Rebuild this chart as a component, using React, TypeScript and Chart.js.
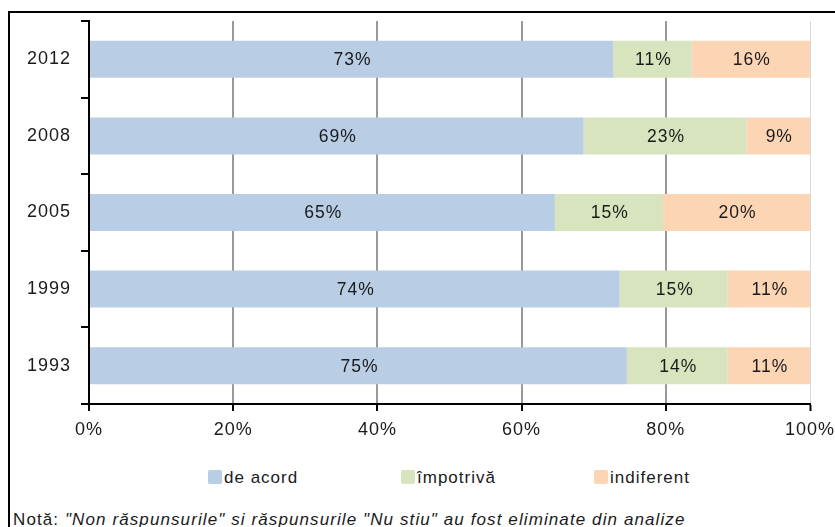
import React, { useEffect, useRef } from "react";
import { Chart, registerables } from "chart.js";

Chart.register(...registerables);

const years = ["2012", "2008", "2005", "1999", "1993"];
const deAcord = [72.7, 68.6, 64.6, 73.6, 74.6];
const impotriva = [10.9, 22.6, 15.0, 15.0, 14.0];
const indiferent = [16.4, 8.8, 20.4, 11.4, 11.4];
const seriesNames = ["de acord", "împotrivă", "indiferent"];
const seriesColors = ["#B9CDE5", "#D7E4BD", "#FCD5B5"];
const xTicks = [0, 20, 40, 60, 80, 100];

const FONT = "'Liberation Sans', Arial, sans-serif";

const labelPlugin = {
  id: "barLabels",
  beforeDraw(chart: any) {
    chart.ctx.letterSpacing = "1px";
  },
  afterDatasetsDraw(chart: any) {
    const ctx = chart.ctx;
    ctx.save();
    ctx.letterSpacing = "1px";
    ctx.font = `17.5px ${FONT}`;
    ctx.fillStyle = "#1a1a1a";
    ctx.textAlign = "center";
    ctx.textBaseline = "middle";
    chart.data.datasets.forEach((ds: any, di: number) => {
      const meta = chart.getDatasetMeta(di);
      meta.data.forEach((el: any, i: number) => {
        const p = el.getCenterPoint();
        ctx.fillText(Math.round(ds.data[i]) + "%", p.x + 1, p.y + 1);
      });
    });
    ctx.restore();
  },
};

export default function App() {
  const ref = useRef<HTMLCanvasElement>(null);
  useEffect(() => {
    if (!ref.current) return;
    Chart.defaults.font.family = FONT;
    const chart = new Chart(ref.current, {
      type: "bar",
      data: {
        labels: years,
        datasets: [deAcord, impotriva, indiferent].map((d, i) => ({
          label: seriesNames[i],
          data: d,
          backgroundColor: seriesColors[i],
          barPercentage: 0.483,
          categoryPercentage: 1,
        })),
      },
      options: {
        indexAxis: "y",
        animation: false,
        responsive: false,
        maintainAspectRatio: false,
        layout: { padding: { left: 0, right: 25, top: 21, bottom: 0 } },
        plugins: { legend: { display: false }, tooltip: { enabled: false } },
        scales: {
          x: {
            stacked: true,
            min: 0,
            max: 100,
            afterBuildTicks: (scale: any) => {
              scale.ticks = xTicks.map((v) => ({ value: v }));
            },
            afterFit: (scale: any) => {
              scale.height = 46;
              scale.paddingLeft = 0;
              scale.paddingRight = 0;
            },
            border: { display: true, color: "#000", width: 2 },
            grid: {
              display: true,
              drawOnChartArea: true,
              color: (c: any) =>
                c.tick && c.tick.value === 100
                  ? "#d9d9d9"
                  : c.tick && c.tick.value === 0
                  ? "rgba(0,0,0,0)"
                  : "#999999",
              lineWidth: (c: any) => (c.tick && c.tick.value === 100 ? 1 : 2),
              tickColor: "#000",
              tickWidth: 2,
              tickLength: 7,
            },
            ticks: {
              color: "#1a1a1a",
              font: { size: 18, family: FONT },
              padding: 8,
              maxRotation: 0,
              callback: (v: any) => v + "%",
            },
          },
          y: {
            stacked: true,
            afterFit: (scale: any) => {
              scale.width = 89;
              scale.paddingTop = 0;
              scale.paddingBottom = 0;
            },
            border: { display: true, color: "#000", width: 2 },
            grid: {
              display: true,
              drawOnChartArea: false,
              offset: true,
              color: "#000",
              lineWidth: 2,
              tickLength: 8,
            },
            ticks: {
              color: "#1a1a1a",
              font: { size: 18, family: FONT },
              padding: 10,
            },
          },
        },
      },
      plugins: [labelPlugin],
    });
    return () => chart.destroy();
  }, []);

  const legendLeft = [208, 401, 594];

  return (
    <div
      style={{
        position: "fixed",
        left: 0,
        top: 0,
        width: 835,
        height: 527,
        overflow: "hidden",
        background: "#fff",
        fontFamily: FONT,
      }}
    >
      <div
        style={{
          position: "absolute",
          left: 8,
          top: 11,
          width: 900,
          height: 600,
          border: "2px solid #000",
        }}
      />
      <canvas
        ref={ref}
        width={835}
        height={450}
        style={{ position: "absolute", left: 0, top: 0, width: 835, height: 450 }}
      />
      {seriesNames.map((name, i) => (
        <div
          key={name}
          style={{
            position: "absolute",
            left: legendLeft[i],
            top: 468,
            height: 20,
            display: "flex",
            alignItems: "flex-start",
          }}
        >
          <div
            style={{
              width: 14,
              height: 14,
              marginTop: 2,
              borderRadius: 2,
              background: seriesColors[i],
            }}
          />
          <span
            style={{
              marginLeft: 2,
              fontSize: 17,
              lineHeight: "20px",
              letterSpacing: "1px",
              color: "#1a1a1a",
              whiteSpace: "nowrap",
            }}
          >
            {name}
          </span>
        </div>
      ))}
      <div
        style={{
          position: "absolute",
          left: 13,
          top: 510,
          fontSize: 17,
          lineHeight: "normal",
          letterSpacing: "1.1px",
          color: "#1a1a1a",
          whiteSpace: "nowrap",
        }}
      >
        Notă: <i>"Non răspunsurile" si răspunsurile "Nu stiu" au fost eliminate din analize</i>
      </div>
    </div>
  );
}
